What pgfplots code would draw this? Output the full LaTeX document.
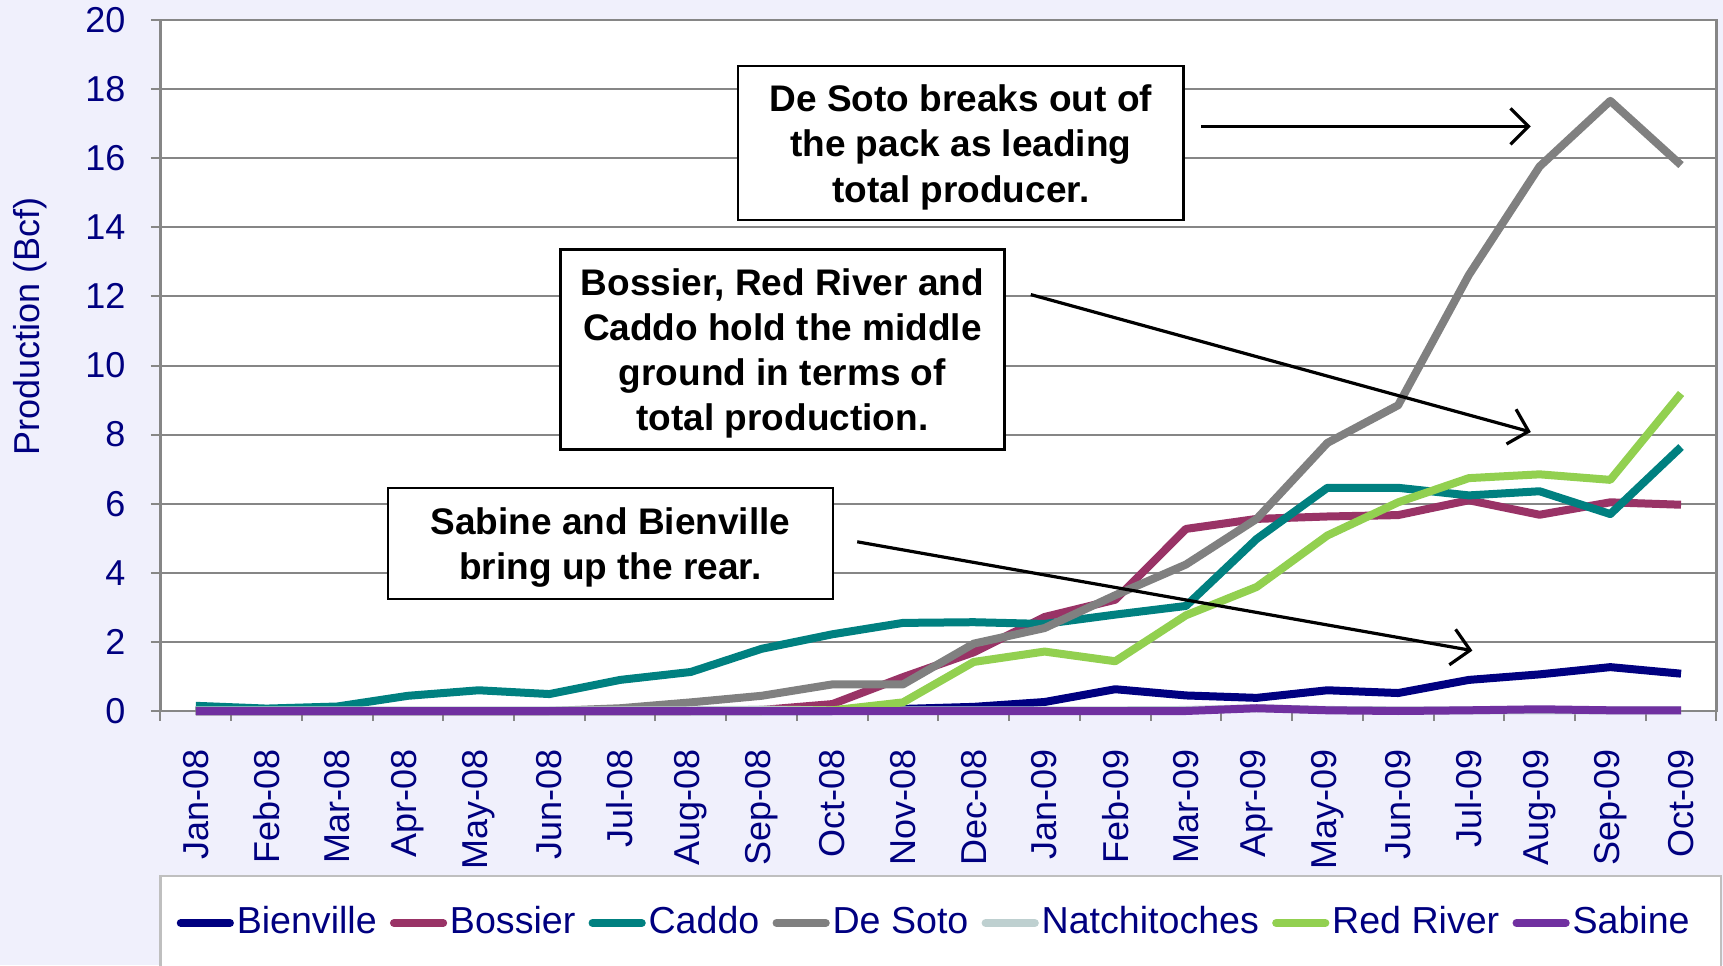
\documentclass[border=0pt]{standalone}
\usepackage{fontspec}
\setmainfont{Liberation Sans}
\usepackage{pgfplots}
\pgfplotsset{compat=1.18}
\usetikzlibrary{arrows.meta}
\definecolor{bgc}{RGB}{240,240,252}
\definecolor{gridc}{RGB}{134,134,134}
\definecolor{legfr}{RGB}{191,191,191}
\definecolor{navytxt}{RGB}{0,0,128}
\definecolor{cBienville}{RGB}{0,0,128}
\definecolor{cBossier}{RGB}{153,51,102}
\definecolor{cCaddo}{RGB}{0,128,128}
\definecolor{cDeSoto}{RGB}{128,128,128}
\definecolor{cNatch}{RGB}{190,208,208}
\definecolor{cRedRiver}{RGB}{146,208,80}
\definecolor{cSabine}{RGB}{112,48,160}

\pgfplotstableread{
i Bienville Bossier Caddo DeSoto Natch RedRiver Sabine
0  0.00 0.00 0.15 0.00 0.02 0.00 0.00
1  0.00 0.00 0.07 0.00 0.02 0.00 0.00
2  0.00 0.00 0.13 0.00 0.02 0.00 0.00
3  0.00 0.00 0.44 0.00 0.02 0.00 0.00
4  0.00 0.00 0.60 0.00 0.02 0.00 0.00
5  0.00 0.00 0.49 0.00 0.02 0.00 0.00
6  0.00 0.00 0.90 0.08 0.02 0.00 0.00
7  0.00 0.00 1.13 0.25 0.02 0.00 0.00
8  0.00 0.03 1.80 0.44 0.04 0.00 0.00
9  0.00 0.20 2.22 0.77 0.02 0.02 0.00
10 0.06 0.98 2.55 0.77 0.02 0.25 0.00
11 0.12 1.70 2.57 1.95 0.02 1.42 0.00
12 0.26 2.72 2.52 2.40 0.02 1.72 0.00
13 0.63 3.22 2.79 3.35 0.02 1.44 0.00
14 0.45 5.27 3.04 4.24 0.03 2.77 0.00
15 0.38 5.56 4.98 5.56 0.08 3.59 0.08
16 0.60 5.63 6.46 7.76 0.03 5.08 0.02
17 0.52 5.67 6.46 8.85 0.02 6.04 0.00
18 0.90 6.10 6.24 12.62 0.02 6.74 0.02
19 1.06 5.68 6.36 15.76 0.02 6.85 0.05
20 1.27 6.04 5.70 17.66 0.02 6.69 0.02
21 1.08 5.97 7.64 15.80 0.02 9.19 0.02
}\datatable

\begin{document}
\begin{tikzpicture}[x=1pt,y=1pt]
\fill[bgc] (0,0) rectangle (430.75,241.25);
\draw[legfr, fill=white, line width=0.6pt] (40.1,-10) rectangle (430.2,22.3);
\begin{axis}[
  at={(40.1pt,63.5pt)}, anchor=south west,
  scale only axis, width=389pt, height=172.75pt,
  xmin=-0.5, xmax=21.5, ymin=0, ymax=20,
  clip=false,
  axis background/.style={fill=white},
  axis line style={gridc, line width=0.6pt},
  ytick={0,2,...,20},
  minor ytick={0,2,...,20},
  xtick={0,...,21},
  minor xtick={-0.5,0.5,...,21.5},
  tick pos=left,
  xticklabels={Jan-08,Feb-08,Mar-08,Apr-08,May-08,Jun-08,Jul-08,Aug-08,Sep-08,Oct-08,Nov-08,Dec-08,Jan-09,Feb-09,Mar-09,Apr-09,May-09,Jun-09,Jul-09,Aug-09,Sep-09,Oct-09},
  ymajorgrids, major grid style={gridc, line width=0.5pt},
  tick align=outside, major tick length=0pt, minor tick length=2.4pt,
  minor tick style={gridc, line width=0.5pt},
  /pgf/number format/assume math mode=true,
  tick label style={font=\fontsize{9}{10}\selectfont, text=navytxt},
  yticklabel style={anchor=east, xshift=-5.2pt},
  xticklabel style={rotate=90, anchor=east, xshift=-6pt},
  ylabel={Production (Bcf)},
  ylabel style={at={(axis description cs:-0.084,0.557)}, anchor=center, font=\fontsize{9}{10}\selectfont, text=navytxt},
  legend columns=7,
  legend style={at={(axis description cs:0.01,-0.3068)}, anchor=west, draw=none, fill=none,
    font=\fontsize{9.4}{10}\selectfont, text=navytxt, inner xsep=0pt, inner ysep=0pt,
    nodes={inner xsep=0pt, inner ysep=1pt},
    /tikz/every odd column/.append style={column sep=0.7pt},
    /tikz/every even column/.append style={column sep=3.3pt}},
  legend image code/.code={\draw[#1, line width=2pt, line cap=round] (1pt,0pt) -- (13.3pt,0pt);},
  every axis plot/.append style={line width=2pt, mark=none, line join=round},
]
\addplot[cBienville] table[x=i, y=Bienville] {\datatable};
\addlegendentry{Bienville}
\addplot[cBossier] table[x=i, y=Bossier] {\datatable};
\addlegendentry{Bossier}
\addplot[cCaddo] table[x=i, y=Caddo] {\datatable};
\addlegendentry{Caddo}
\addplot[cDeSoto] table[x=i, y=DeSoto] {\datatable};
\addlegendentry{De Soto}
\addplot[cNatch] table[x=i, y=Natch] {\datatable};
\addlegendentry{Natchitoches}
\addplot[cRedRiver] table[x=i, y=RedRiver] {\datatable};
\addlegendentry{Red River}
\addplot[cSabine] table[x=i, y=Sabine] {\datatable};
\addlegendentry{Sabine}
\end{axis}

\tikzset{box/.style={draw=black, line width=0.6pt, fill=white},
  anno/.style={align=center, inner sep=0pt,
  font=\bfseries\fontsize{9.25}{11.26}\selectfont},
  arr/.style={line width=0.8pt, -{Straight Barb[length=4.5pt,width=9pt]}}}
\draw[box] (184.55,186.25) rectangle (295.85,224.75);
\node[anno] at (240.2,204.4) {De Soto breaks out of\\the pack as leading\\total producer.};
\draw[box] (140.1,128.9) rectangle (251.1,178.9);
\node[anno] at (195.6,152.8) {Bossier, Red River and\\Caddo hold the middle\\ground in terms of\\total production.};
\draw[box] (96.95,91.5) rectangle (208.25,119.25);
\node[anno] at (152.6,104.3) {Sabine and Bienville\\bring up the rear.};
\draw[arr] (300.3,209.65) -- (382.7,209.65);
\draw[arr] (257.7,167.6) -- (382.7,133.25);
\draw[arr] (214.3,105.8) -- (368.1,78.6);

\pgfresetboundingbox
\path[use as bounding box] (0,0) rectangle (430.75,241.25);
\end{tikzpicture}
\end{document}
